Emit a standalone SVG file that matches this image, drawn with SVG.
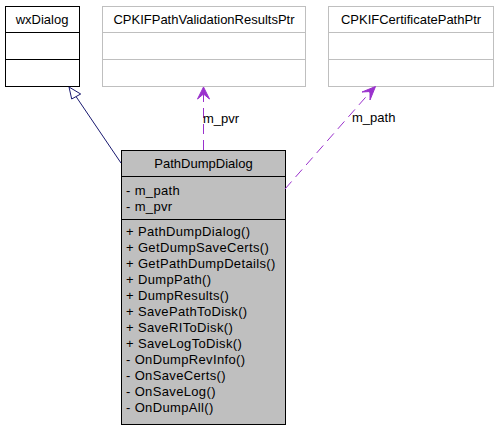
<svg xmlns="http://www.w3.org/2000/svg" width="496" height="427" viewBox="0 0 496 427">
<style>
text{font-family:"Liberation Sans",Arial,sans-serif;font-size:13px;fill:#000}
.t{text-anchor:middle}
.m{letter-spacing:0.35px}
.box{fill:#fff;stroke:#000;stroke-width:1}
.gbox{fill:#fff;stroke:#bfbfbf;stroke-width:1}
.main{fill:#bfbfbf;stroke:#000;stroke-width:1}
.inh{fill:none;stroke:#191970;stroke-width:1}
.use{fill:none;stroke:#9a32cd;stroke-width:1;stroke-dasharray:10,6}
</style>
<rect width="496" height="427" fill="#fff"/>
<g id="wxDialog">
<rect class="box" x="5.5" y="6.5" width="74" height="80"/>
<line class="box" x1="5.5" y1="32.5" x2="79.5" y2="32.5"/>
<line class="box" x1="5.5" y1="59.5" x2="79.5" y2="59.5"/>
<text class="t" x="42" y="24">wxDialog</text>
</g>
<g id="CPKIFPathValidationResultsPtr">
<rect class="gbox" x="102.5" y="6.5" width="203" height="80"/>
<line class="gbox" x1="102.5" y1="32.5" x2="305.5" y2="32.5"/>
<line class="gbox" x1="102.5" y1="59.5" x2="305.5" y2="59.5"/>
<text class="t" x="204" y="24">CPKIFPathValidationResultsPtr</text>
</g>
<g id="CPKIFCertificatePathPtr">
<rect class="gbox" x="328.5" y="6.5" width="165" height="80"/>
<line class="gbox" x1="328.5" y1="32.5" x2="493.5" y2="32.5"/>
<line class="gbox" x1="328.5" y1="59.5" x2="493.5" y2="59.5"/>
<text class="t" x="411" y="24">CPKIFCertificatePathPtr</text>
</g>
<g id="PathDumpDialog">
<rect class="main" x="121.5" y="150.5" width="164" height="274"/>
<line class="main" x1="121.5" y1="176.5" x2="285.5" y2="176.5"/>
<line class="main" x1="121.5" y1="219.5" x2="285.5" y2="219.5"/>
<text class="t" x="203.5" y="168">PathDumpDialog</text>
<text class="m" x="126" y="195">- m_path</text>
<text class="m" x="126" y="211">- m_pvr</text>
<text class="m" x="126" y="236">+ PathDumpDialog()</text>
<text class="m" x="126" y="252">+ GetDumpSaveCerts()</text>
<text class="m" x="126" y="268">+ GetPathDumpDetails()</text>
<text class="m" x="126" y="284">+ DumpPath()</text>
<text class="m" x="126" y="300">+ DumpResults()</text>
<text class="m" x="126" y="316">+ SavePathToDisk()</text>
<text class="m" x="126" y="332">+ SaveRIToDisk()</text>
<text class="m" x="126" y="348">+ SaveLogToDisk()</text>
<text class="m" x="126" y="364">- OnDumpRevInfo()</text>
<text class="m" x="126" y="380">- OnSaveCerts()</text>
<text class="m" x="126" y="396">- OnSaveLog()</text>
<text class="m" x="126" y="412">- OnDumpAll()</text>
</g>
<g id="connectors">
<line class="inh" x1="121" y1="163" x2="76" y2="96.5"/>
<polygon points="69,87 71.7,99 80.7,94" fill="#fff" stroke="#191970" stroke-width="1"/>
<line class="use" x1="203.5" y1="150" x2="203.5" y2="90"/>
<polygon points="203.5,87 197.5,99 203.5,94 209.5,99" fill="#9a32cd" stroke="#9a32cd" stroke-width="1"/>
<text x="203" y="123">m_pvr</text>
<line class="use" x1="285" y1="189" x2="372" y2="90"/>
<polygon points="375.5,86.5 362,92 370,91.5 370,100" fill="#9a32cd" stroke="#9a32cd" stroke-width="1"/>
<text x="352" y="122">m_path</text>
</g>
</svg>
